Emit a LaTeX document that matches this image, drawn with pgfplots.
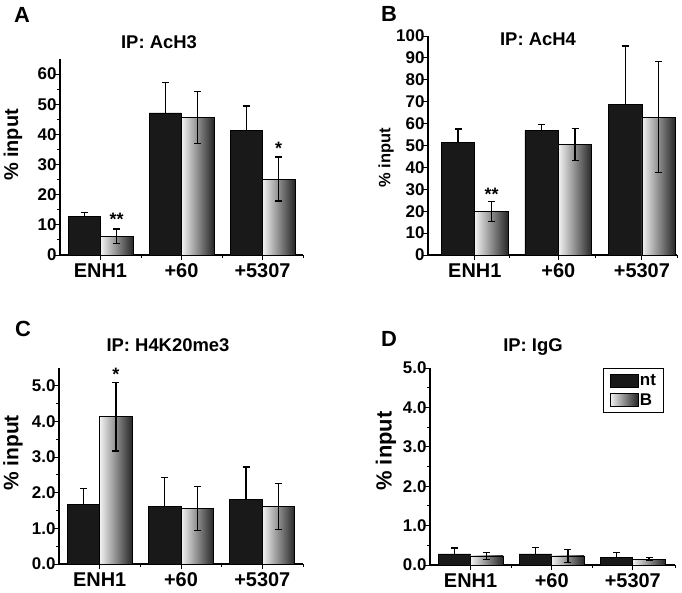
\documentclass[border=0pt]{standalone}
\usepackage{fontspec}
\setmainfont{Liberation Sans}
\usepackage{pgfplots}
\usepackage{pgfplotstable}
\pgfplotsset{compat=1.18}

% columns: site, nt mean, nt error, B mean, B error
\pgfplotstableread{
x nt ntErr B BErr
1 12.9 1.3 6.2 2.4
2 47.1 10.0 45.5 8.6
3 41.4 8.0 25.2 7.3
}\dataA
\pgfplotstableread{
x nt ntErr B BErr
1 51.4 6.1 20.0 4.6
2 56.9 2.6 50.5 7.2
3 68.6 26.8 63.0 25.4
}\dataB
\pgfplotstableread{
x nt ntErr B BErr
1 1.66 0.46 4.13 0.96
2 1.62 0.81 1.56 0.62
3 1.82 0.90 1.61 0.64
}\dataC
\pgfplotstableread{
x nt ntErr B BErr
1 0.28 0.15 0.23 0.09
2 0.28 0.17 0.23 0.16
3 0.20 0.12 0.15 0.04
}\dataD

\newcommand{\fs}[1]{\fontsize{#1}{#1}\selectfont\bfseries}

\pgfplotsset{
  panel/.style={
    scale only axis, anchor=south west,
    axis x line*=bottom, axis y line*=left,
    axis line style={line width=1.3pt},
    ybar, bar width=0.4,
    xmin=0.5, xmax=3.5, ymin=0,
    xtick={1,2,3}, xticklabels={ENH1,+60,+5307},
    minor xtick={1.5,2.5,3.5},
    tick align=outside, major tick length=5bp, minor tick length=3bp,
    tick style={line width=1pt, black},
    /pgf/number format/assume math mode=true,
    yticklabel style={font=\fs{17}, xshift=5bp},
    xticklabel style={font=\fs{20}},
    clip=false,
  },
  dec/.style={yticklabel style={/pgf/number format/.cd, fixed, fixed zerofill, precision=1}},
  ntbar/.style={fill=black!90, draw=black, line width=0.8pt, bar shift=-0.2,
    error bars/.cd, y dir=plus, y explicit,
    error bar style={line width=1.2pt, black},
    error mark options={rotate=90, mark size=3.5bp, line width=1.2pt, black}},
  Bbar/.style={left color=black!5, right color=black!85, draw=black, line width=0.8pt, bar shift=0.2,
    error bars/.cd, y dir=both, y explicit,
    error bar style={line width=1.2pt, black},
    error mark options={rotate=90, mark size=3.5bp, line width=1.2pt, black}},
}

% one path per gradient bar, so every bar gets its own shading
\newcommand{\gradbars}[1]{%
  \addplot[restrict x to domain=0.9:1.1, Bbar] table[x=x, y=B, y error=BErr] {#1};
  \addplot[forget plot, restrict x to domain=1.9:2.1, Bbar] table[x=x, y=B, y error=BErr] {#1};
  \addplot[forget plot, restrict x to domain=2.9:3.1, Bbar] table[x=x, y=B, y error=BErr] {#1};
}

\begin{document}
\begin{tikzpicture}
\path[use as bounding box] (0,0) rectangle (682bp,-593bp);

% ---- A
\begin{axis}[panel, at={(60bp,-255bp)}, width=243bp, height=196bp,
  ymax=65, ytick={0,10,...,60}, minor y tick num=1]
\addplot[ntbar] table[x=x, y=nt, y error=ntErr] {\dataA};
\gradbars{\dataA}
\node[font=\fs{18}] at (axis cs:1.2,11.8) {**};
\node[font=\fs{18}] at (axis cs:3.2,35.4) {*};
\end{axis}

% ---- B
\begin{axis}[panel, at={(428bp,-255bp)}, width=249bp, height=219bp,
  xmin=0.44, xmax=3.42, minor xtick={1.42,2.44,3.42},
  ymax=100, ytick={0,10,...,100}]
\addplot[ntbar] table[x=x, y=nt, y error=ntErr] {\dataB};
\gradbars{\dataB}
\node[font=\fs{18}] at (axis cs:1.2,27.8) {**};
\end{axis}

% ---- C
\begin{axis}[panel, dec, at={(59bp,-564bp)}, width=244bp, height=196bp,
  ymax=5.5, ytick={0,1,...,5}, minor y tick num=1]
\addplot[ntbar] table[x=x, y=nt, y error=ntErr] {\dataC};
\gradbars{\dataC}
\node[font=\fs{18}] at (axis cs:1.2,5.31) {*};
\end{axis}

% ---- D
\begin{axis}[panel, dec, at={(430bp,-565bp)}, width=245bp, height=197bp,
  xmax=3.52, minor xtick={1.5,2.5,3.52},
  ymax=5, ytick={0,1,...,5}, minor y tick num=1,
  legend style={at={(0.706,1.0)}, anchor=north west, draw=black, line width=1.3pt,
    font=\fs{17}, inner xsep=6bp, inner ysep=4bp, row sep=4bp,
    nodes={inner sep=1.5bp}, cells={anchor=west}},
  legend image code/.code={\draw[#1] (0bp,-6.5bp) rectangle (28bp,6.5bp);}]
\addplot[ntbar] table[x=x, y=nt, y error=ntErr] {\dataD};
\gradbars{\dataD}
\legend{nt,B}
\end{axis}

% titles, axis names, panel letters
\node[font=\fs{22}] at (22bp,-15bp) {A};
\node[font=\fs{22}] at (389bp,-14bp) {B};
\node[font=\fs{22}] at (23bp,-329bp) {C};
\node[font=\fs{22}] at (389bp,-339bp) {D};
\node[font=\fs{18.5}] at (159bp,-42bp) {IP: AcH3};
\node[font=\fs{18.5}] at (538bp,-39bp) {IP: AcH4};
\node[font=\fs{18.5}] at (168bp,-345bp) {IP: H4K20me3};
\node[font=\fs{18.5}] at (533bp,-347bp) {IP: IgG};
\node[font=\fs{20}, rotate=90] at (13bp,-145bp) {\% input};
\node[font=\fs{16.5}, rotate=90] at (386bp,-158bp) {\% input};
\node[font=\fs{21}, rotate=90] at (13bp,-453bp) {\% input};
\node[font=\fs{22}, rotate=90] at (386bp,-451bp) {\% input};
\end{tikzpicture}
\end{document}
